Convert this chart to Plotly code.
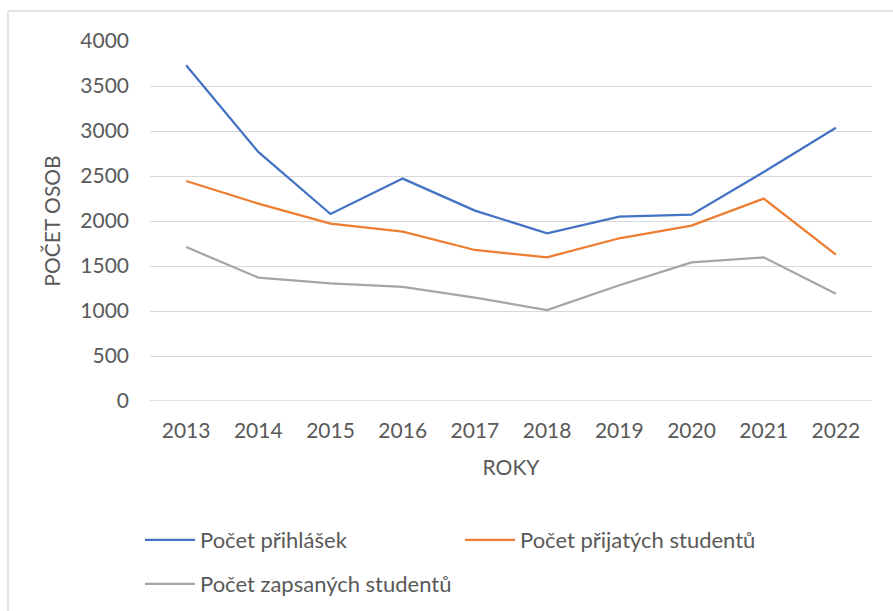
import plotly.graph_objects as go

years = ["2013", "2014", "2015", "2016", "2017", "2018", "2019", "2020", "2021", "2022"]
prihlasky = [3730, 2767, 2078, 2471, 2115, 1863, 2049, 2071, 2544, 3037]
prijati = [2444, 2193, 1971, 1882, 1678, 1597, 1808, 1949, 2249, 1627]
zapsani = [1711, 1371, 1308, 1267, 1149, 1011, 1286, 1541, 1597, 1193]
names = ["Počet přihlášek", "Počet přijatých studentů", "Počet zapsaných studentů"]
y_ticks = [0, 500, 1000, 1500, 2000, 2500, 3000, 3500, 4000]

W, H = 893, 611
ML, MR, MT, MB = 150, 21, 41, 210
PW, PH = W - ML - MR, H - MT - MB

def px_x(x):
    return (x - ML) / PW

def px_y(y):
    return (H - MB - y) / PH

TXT = "#595959"
FONT = "Lato"
FS = 21

fig = go.Figure()
series = [prihlasky, prijati, zapsani]
colors = ["#4472C4", "#ED7D31", "#A5A5A5"]
legends = ["legend", "legend2", "legend3"]
for vals, nm, c, lg in zip(series, names, colors, legends):
    fig.add_trace(go.Scatter(x=years, y=vals, name=nm, mode="lines",
                             line=dict(color=c, width=2.25), legend=lg,
                             showlegend=True))

leg_common = dict(orientation="h", font=dict(family=FONT, size=22, color=TXT),
                  bgcolor="rgba(0,0,0,0)", xanchor="left", yanchor="middle",
                  itemwidth=50, visible=True)
fig.update_layout(
    width=W, height=H,
    margin=dict(l=ML, r=MR, t=MT, b=MB, autoexpand=False),
    paper_bgcolor="white", plot_bgcolor="white",
    showlegend=True,
    font=dict(family=FONT, size=FS, color=TXT),
    legend=dict(x=px_x(140), y=px_y(540), **leg_common),
    legend2=dict(x=px_x(460), y=px_y(540), **leg_common),
    legend3=dict(x=px_x(140), y=px_y(584), **leg_common),
    xaxis=dict(type="category", range=[-0.5, 9.5], showgrid=False, zeroline=False,
               showline=False, ticks="", ticklabelstandoff=15, automargin=False,
               tickfont=dict(family=FONT, size=FS, color=TXT),
               title=dict(text="ROKY", standoff=19,
                          font=dict(family=FONT, size=FS, color=TXT))),
    yaxis=dict(range=[0, 4000], tickvals=y_ticks, showgrid=True, automargin=False,
               gridcolor="#D9D9D9", gridwidth=1.3, zeroline=False, showline=False,
               ticks="", ticklabelstandoff=20,
               tickfont=dict(family=FONT, size=FS, color=TXT),
               title=dict(text="POČET OSOB", standoff=13,
                          font=dict(family=FONT, size=FS, color=TXT))),
    shapes=[
        dict(type="line", xref="paper", yref="paper", x0=px_x(8), x1=px_x(8),
             y0=px_y(11), y1=px_y(H + 5), line=dict(color="#D9D9D9", width=1.3)),
        dict(type="line", xref="paper", yref="paper", x0=px_x(8), x1=px_x(W + 5),
             y0=px_y(11), y1=px_y(11), line=dict(color="#D9D9D9", width=1.3)),
        dict(type="line", xref="paper", yref="y", x0=0, x1=1, y0=0, y1=0,
             layer="below", line=dict(color="#D9D9D9", width=1.3)),
    ],
)

fig.write_html("out.html",
               config={"displayModeBar": False},
               post_script="document.body.style.margin='0';document.body.style.overflow='hidden';")
